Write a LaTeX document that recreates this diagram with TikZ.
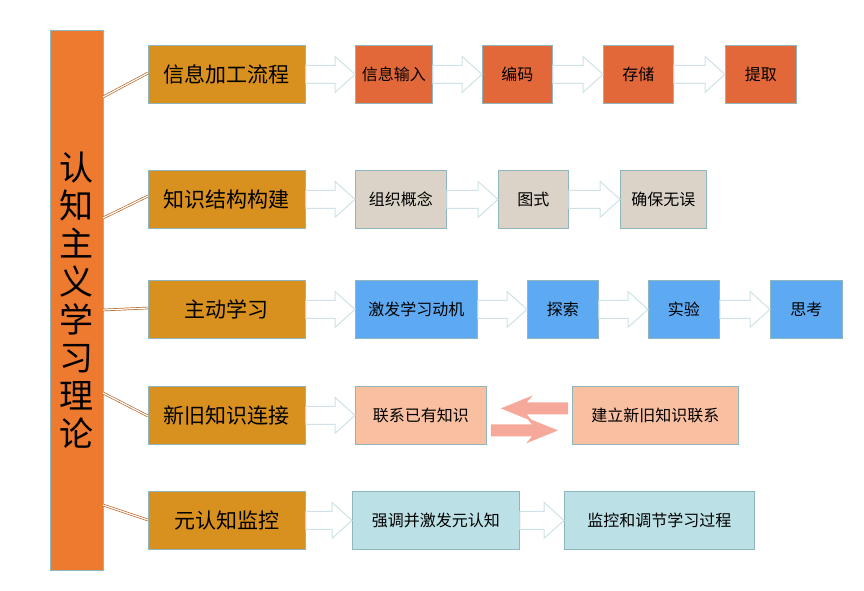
\documentclass[tikz,border=0pt]{standalone}
\usepackage{fontspec}
\setmainfont{Noto Sans CJK SC}
\usetikzlibrary{calc}
\definecolor{barC}{HTML}{EE7A30}
\definecolor{goldC}{HTML}{D8901E}
\definecolor{redC}{HTML}{E2683A}
\definecolor{greyC}{HTML}{DBD3C8}
\definecolor{blueC}{HTML}{5EAAF2}
\definecolor{pinkC}{HTML}{F9BFA1}
\definecolor{cyanC}{HTML}{BBE0E5}
\definecolor{edgeC}{HTML}{8FB5BD}
\definecolor{arrC}{HTML}{CFE2E6}
\definecolor{salC}{HTML}{F6A99A}
\definecolor{lnC}{HTML}{B8682A}
\tikzset{
 box/.style={draw=edgeC, line width=0.8pt, minimum height=58pt, inner sep=0pt, anchor=north west, font=\fontsize{16}{16}\selectfont},
 gbox/.style={box, fill=goldC, minimum width=157pt, font=\fontsize{21}{21}\selectfont},
 link/.style={draw=lnC, double=white, double distance=1.2pt, line width=0.7pt},
}
\newcommand{\blk}[2]{%
 \path let \p1=(#1.east), \p2=(#2.west) in
  [draw=arrC, fill=white, line width=1pt]
  (\x1,\y1+9) -- (\x2-20,\y1+9) -- (\x2-20,\y1+18) -- (\x2,\y1) -- (\x2-20,\y1-18) -- (\x2-20,\y1-9) -- (\x1,\y1-9) -- cycle;}
\begin{document}
\begin{tikzpicture}[x=1pt,y=-1pt]
\useasboundingbox (0,0) rectangle (864,590);
\node[draw=edgeC, fill=barC, minimum width=53pt, minimum height=540pt, inner sep=0pt, anchor=north west,
  font=\fontsize{34}{38}\selectfont, align=center] (bar) at (50,30) {认\\知\\主\\义\\学\\习\\理\\论};
% row heads
\node[gbox] (g1) at (148,45) {信息加工流程};
\node[gbox] (g2) at (148,170) {知识结构构建};
\node[gbox] (g3) at (148,280) {主动学习};
\node[gbox] (g4) at (148,386) {新旧知识连接};
\node[gbox] (g5) at (148,491) {元认知监控};
\coordinate (b1) at (103,97); \coordinate (b2) at (103,218); \coordinate (b3) at (103,310);
\coordinate (b4) at (103,393); \coordinate (b5) at (103,505);
\coordinate (t1) at (148,73); \coordinate (t2) at (148,196); \coordinate (t3) at (148,308);
\coordinate (t4) at (148,416); \coordinate (t5) at (148,520);
\foreach \i in {1,...,5} {\draw[link] (b\i) -- (t\i);}
% row 1
\node[box, fill=redC, minimum width=77pt] (r11) at (355,45) {信息输入};
\node[box, fill=redC, minimum width=70pt] (r12) at (482,45) {编码};
\node[box, fill=redC, minimum width=70pt] (r13) at (603,45) {存储};
\node[box, fill=redC, minimum width=71pt] (r14) at (725,45) {提取};
% row 2
\node[box, fill=greyC, minimum width=91pt] (r21) at (355,170) {组织概念};
\node[box, fill=greyC, minimum width=70pt] (r22) at (498,170) {图式};
\node[box, fill=greyC, minimum width=86pt] (r23) at (620,170) {确保无误};
% row 3
\node[box, fill=blueC, minimum width=122pt] (r31) at (355,280) {激发学习动机};
\node[box, fill=blueC, minimum width=71pt] (r32) at (527,280) {探索};
\node[box, fill=blueC, minimum width=71pt] (r33) at (648,280) {实验};
\node[box, fill=blueC, minimum width=72pt] (r34) at (770,280) {思考};
% row 4
\node[box, fill=pinkC, minimum width=131pt] (r41) at (355,386) {联系已有知识};
\node[box, fill=pinkC, minimum width=166pt] (r42) at (572,386) {建立新旧知识联系};
% row 5
\node[box, fill=cyanC, minimum width=167pt] (r51) at (352,491) {强调并激发元认知};
\node[box, fill=cyanC, minimum width=190pt] (r52) at (564,491) {监控和调节学习过程};
% block arrows
\blk{g1}{r11}\blk{r11}{r12}\blk{r12}{r13}\blk{r13}{r14}
\blk{g2}{r21}\blk{r21}{r22}\blk{r22}{r23}
\blk{g3}{r31}\blk{r31}{r32}\blk{r32}{r33}\blk{r33}{r34}
\blk{g4}{r41}
\blk{g5}{r51}\blk{r51}{r52}
% swap arrows
\path let \p1=(r41.east), \p2=(r42.west) in
 [fill=salC] (\x1+4,\y1-21) -- (\x2-40,\y1-21) -- (\x2-46,\y1-28) -- (\x2-14,\y1-15) -- (\x2-46,\y1-2) -- (\x2-40,\y1-9) -- (\x1+4,\y1-9) -- cycle
 [fill=salC] (\x2-4,\y1+13) -- (\x1+40,\y1+13) -- (\x1+46,\y1+20) -- (\x1+14,\y1+7) -- (\x1+46,\y1-6) -- (\x1+40,\y1+1) -- (\x2-4,\y1+1) -- cycle;
\end{tikzpicture}
\end{document}
